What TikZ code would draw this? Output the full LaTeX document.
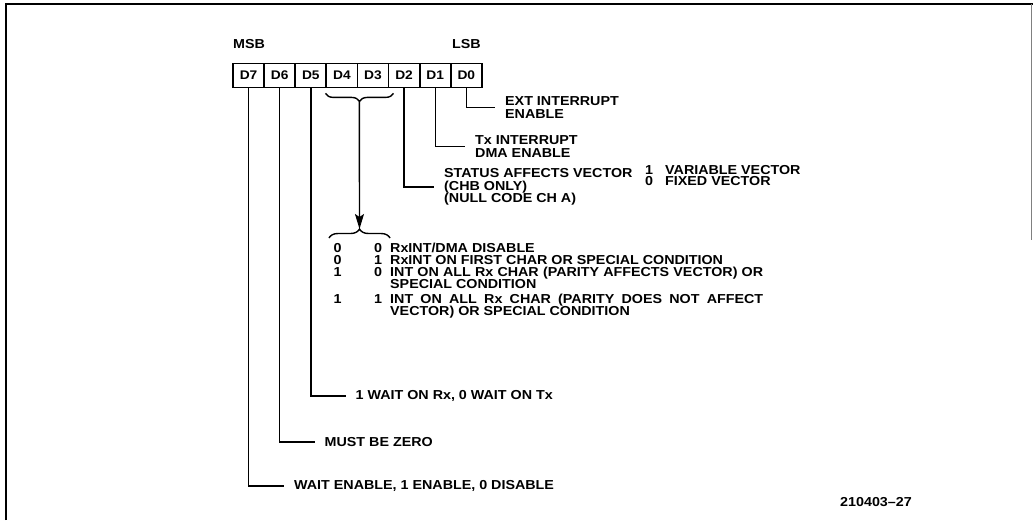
\documentclass[tikz,border=0pt]{standalone}
\usepackage{fontspec}
\setmainfont{Liberation Sans}[FakeStretch=1.1]
\usetikzlibrary{arrows.meta, decorations.pathreplacing, calc}

\begin{document}
\begin{tikzpicture}[
	x=1pt, y=-1pt,
	>=Stealth,
	every node/.style={font=\bfseries\fontsize{13}{12.5}\selectfont},
	bitbox/.style={draw, line width=1.8pt, minimum width=31.1pt, minimum height=24pt, inner sep=0pt, font=\bfseries\fontsize{12.5}{12}\selectfont},
	fieldtext/.style={anchor=west, align=left, inner xsep=10pt, inner ysep=0pt},
	rowtext/.style={anchor=base west, inner sep=0pt},
	rowbit/.style={anchor=base, inner sep=0pt},
	wire/.style={line width=1.4pt},
	curly/.style={decorate, line width=1.4pt},
	arrow/.style={-{Stealth[length=15pt, width=9pt, inset=3pt]}, line width=1.4pt}
	]
	
	% Marco
	\useasboundingbox (0,0) rectangle (1033,520);
	\draw[line width=2pt] (6,520) -- (6,4) -- (1033,4);
	\draw[line width=0.8pt, gray] (1031,4) -- (1031,240);
	
	% Registro
	\foreach \b [count=\i from 0] in {7,6,5,4,3,2,1,0}
	\node[bitbox] (D\b) at ({248.6+31.1*\i},75.5) {D\b};
	
	\node[anchor=base west, inner sep=0pt] (msb) at (233,48) {MSB};
	\node[anchor=base east, inner sep=0pt] (lsb) at (481,48) {LSB};
	
	% Campos D0--D2
	\node[fieldtext] (ext) at (495,107.5) {EXT INTERRUPT\\ENABLE};
	\node[fieldtext] (txi) at (465,146.5) {Tx INTERRUPT\\DMA ENABLE};
	\node[fieldtext] (stat) at (434,187) {STATUS AFFECTS VECTOR\\(CHB ONLY)\\(NULL CODE CH A)};
	\node[fieldtext, inner xsep=0pt, font=\bfseries\fontsize{13}{11}\selectfont] (vbit) at (645,176) {1\\0};
	\node[fieldtext, inner xsep=0pt, font=\bfseries\fontsize{13}{11}\selectfont] (vtxt) at (665,176) {VARIABLE VECTOR\\FIXED VECTOR};
	
	\draw[wire] (D0.south) |- (ext.west);
	\draw[wire] (D1.south) |- (txi.west);
	\draw[wire] (D2.south) |- (stat.west);
	
	% D4 D3
	\draw[curly, decoration={brace, mirror, amplitude=8pt}]
	([yshift=-5pt]D4.south west) -- ([xshift=4pt, yshift=-5pt]D3.south east);
	\coordinate (upTip) at ($(D4.south east)+(1pt,-13pt)$);
	\draw[curly, decoration={brace, amplitude=9pt}] (329,238) -- (390,238);
	\coordinate (lowTip) at (359.5,229);
	\draw[arrow] (upTip) -- (lowTip);
	
	\node[rowbit] (a1) at (337.5,252) {0};
	\node[rowbit] (b1) at (378,252) {0};
	\node[rowtext] (r1) at (390,252) {RxINT/DMA DISABLE};
	\node[rowbit] (a2) at (337.5,264) {0};
	\node[rowbit] (b2) at (378,264) {1};
	\node[rowtext] (r2) at (390,264) {RxINT ON FIRST CHAR OR SPECIAL CONDITION};
	\node[rowbit] (a3) at (337.5,276) {1};
	\node[rowbit] (b3) at (378,276) {0};
	\node[rowtext] (r3) at (390,276) {\makebox[373pt][s]{INT ON ALL Rx CHAR (PARITY AFFECTS VECTOR) OR}};
	\node[rowtext] (r3b) at (390,288) {SPECIAL CONDITION};
	\node[rowbit] (a4) at (337.5,303) {1};
	\node[rowbit] (b4) at (378,303) {1};
	\node[rowtext] (r4) at (390,303) {\makebox[373pt][s]{INT ON ALL Rx CHAR (PARITY DOES NOT AFFECT}};
	\node[rowtext] (r4b) at (390,315) {VECTOR) OR SPECIAL CONDITION};
	
	% Campos D5--D7
	\node[fieldtext] (wrx) at (345.5,396) {1 WAIT ON Rx, 0 WAIT ON Tx};
	\node[fieldtext] (zero) at (314.5,442) {MUST BE ZERO};
	\node[fieldtext] (wen) at (284,486) {WAIT ENABLE, 1 ENABLE, 0 DISABLE};
	
	\draw[wire] (D5.south) |- (wrx.west);
	\draw[wire] (D6.south) |- (zero.west);
	\draw[wire] (D7.south) |- (wen.west);
	
	% Referencia
	\node[anchor=west, inner sep=0pt] (ref) at (840,502) {210403--27};
	
\end{tikzpicture}
\end{document}
